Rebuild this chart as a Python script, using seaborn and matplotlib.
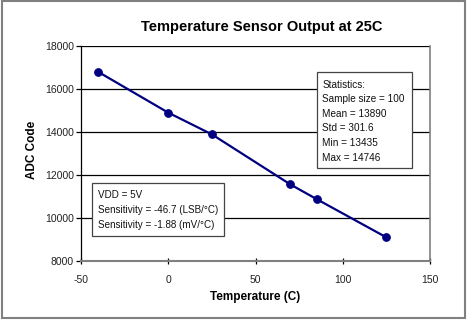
import matplotlib
matplotlib.use("Agg")
import matplotlib.pyplot as plt
import matplotlib.patches as mpatches
import seaborn as sns
import pandas as pd

temperature = [-40, 0, 25, 70, 85, 125]
adc_code = [16790, 14900, 13890, 11560, 10880, 9100]
x_ticks = [-50, 0, 50, 100, 150]
y_ticks = [8000, 10000, 12000, 14000, 16000, 18000]
stats_lines = ["Statistics:", "Sample size = 100", "Mean = 13890", "Std = 301.6",
               "Min = 13435", "Max = 14746"]
info_lines = ["VDD = 5V", "Sensitivity = -46.7 (LSB/\u00b0C)", "Sensitivity = -1.88 (mV/\u00b0C)"]

sns.set_theme(style="white")
plt.rcParams['font.family'] = ['Liberation Sans', 'DejaVu Sans']

W, H = 467, 325
fig = plt.figure(figsize=(W / 100, H / 100), dpi=100)
fig.patch.set_facecolor("white")

def px(x, y):
    return x / W, 1 - y / H

L, R, T, B = 81, 430, 46, 261
ax = fig.add_axes([L / W, 1 - B / H, (R - L) / W, (B - T) / H])

df = pd.DataFrame({"Temperature": temperature, "ADC": adc_code})
sns.lineplot(data=df, x="Temperature", y="ADC", ax=ax, color="#000080",
             marker="o", markersize=5.5, markeredgecolor="#000080", linewidth=1.6)

ax.set_xlim(-50, 150)
ax.set_ylim(8000, 18000)
ax.set_xticks(x_ticks)
ax.set_yticks(y_ticks)
ax.set_xticklabels([str(v) for v in x_ticks])
ax.set_yticklabels([str(v) for v in y_ticks])
ax.set_xlabel("")
ax.set_ylabel("")
for yv in y_ticks[1:]:
    ax.axhline(yv, color="black", linewidth=0.9, zorder=0)

ax.spines["left"].set_color("black")
ax.spines["left"].set_linewidth(0.9)
ax.spines["bottom"].set_color("#808080")
ax.spines["bottom"].set_linewidth(1.5)
ax.spines["right"].set_color("#808080")
ax.spines["right"].set_linewidth(1.2)
ax.spines["top"].set_visible(False)
ax.tick_params(axis="y", direction="out", length=3.5, width=0.9, color="black",
               labelsize=7.5, pad=1.5, left=True)
ax.tick_params(axis="x", direction="inout", length=4, width=0.9, color="black",
               labelsize=7.5, pad=8, bottom=True)
for lbl in ax.get_xticklabels() + ax.get_yticklabels():
    lbl.set_color("#222222")

fig.text(*px(262, 27), "Temperature Sensor Output at 25C", ha="center", va="center",
         fontsize=10.5, fontweight="bold", color="black")
fig.text(*px(255.5, 297), "Temperature (C)", ha="center", va="center",
         fontsize=8.5, fontweight="bold", color="black")
fig.text(*px(32, 150), "ADC Code", ha="center", va="center", rotation=90,
         fontsize=8.5, fontweight="bold", color="black")

def box(x0, y0, x1, y1):
    r = mpatches.Rectangle(px(x0, y1), (x1 - x0) / W, (y1 - y0) / H,
                           transform=fig.transFigure, facecolor="white",
                           edgecolor="#444444", linewidth=0.9, zorder=5)
    fig.add_artist(r)

box(317, 72, 412, 168)
for i, s in enumerate(stats_lines):
    fig.text(*px(322.5, 84.5 + i * 14.6), s, ha="left", va="center",
             fontsize=7.2, color="#111111", zorder=6)

box(92, 183, 224, 236)
for i, s in enumerate(info_lines):
    fig.text(*px(97.5, 194.5 + i * 15.3), s, ha="left", va="center",
             fontsize=7.1, color="#111111", zorder=6)

frame = mpatches.Rectangle(px(2, 318), (465 - 2) / W, (318 - 1) / H,
                           transform=fig.transFigure, facecolor="none",
                           edgecolor="#808080", linewidth=1.5, zorder=10)
fig.add_artist(frame)

fig.savefig("out.png", dpi=100)
